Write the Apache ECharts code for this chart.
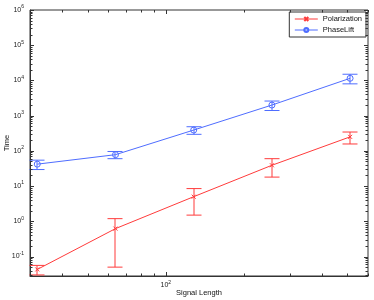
<!DOCTYPE html>
<html>
<head>
<meta charset="utf-8">
<script src="https://cdn.jsdelivr.net/npm/echarts@6/dist/echarts.min.js"></script>
<style>html,body{margin:0;padding:0;background:#fff}#c{width:374px;height:300px}</style>
</head>
<body>
<div id="c"></div>
<script>
// ---- data ----
var signalLengths = [32, 64, 128, 256, 512];
var polarizationTime = [0.043, 0.62, 5.0, 39, 250];
var polarizationErr = [0.013, 0.57, 3.5, 21, 93];
var phaseLiftTime = [42, 78, 390, 2000, 11500];
var phaseLiftErr = [12.5, 18, 95, 600, 3500];
var xRange = [30, 600];
var yRange = [0.028, 1e6];
var xTickValues = [30, 40, 50, 60, 70, 80, 90, 100, 200, 300, 400, 500, 600];
var yTickDecades = [-2, -1, 0, 1, 2, 3, 4, 5];
var seriesNames = ['Polarization', 'PhaseLift'];

var RED = '#ff3b3b', BLUE = '#4f6dff', AX = '#333';
var FONT = '"Liberation Sans", Arial, sans-serif';

// tick lists (major = power of ten)
var xTicks = xTickValues.map(function (v) { return [v, yRange[0]]; });
var yTicks = [];
yTickDecades.forEach(function (d) {
  for (var k = 1; k <= 9; k++) {
    var v = k * Math.pow(10, d);
    if (v >= yRange[0] && v <= yRange[1]) yTicks.push([xRange[0], v]);
  }
});
yTicks.push([xRange[0], 1e6]);

function isPow10(v) {
  var l = Math.log10(v);
  return Math.abs(l - Math.round(l)) < 1e-6;
}
function supLabel(v) {
  if (!isPow10(v)) return '';
  return '{b|10}{s|' + Math.round(Math.log10(v)) + '}';
}
var richLab = {
  b: { fontSize: 7, fontFamily: FONT, color: '#222' },
  s: { fontSize: 5, fontFamily: FONT, color: '#222', padding: [0, 0, 6, 0] }
};

function errData(xs, m, e) {
  return xs.map(function (x, i) { return [x, m[i] - e[i], m[i] + e[i]]; });
}
function errRender(color) {
  return function (params, api) {
    var lo = api.coord([api.value(0), api.value(1)]);
    var hi = api.coord([api.value(0), api.value(2)]);
    var w = 7.5;
    var x = Math.round(lo[0]);
    function st() { return { stroke: color, lineWidth: 1, fill: null }; }
    return {
      type: 'group',
      children: [
        { type: 'line', shape: { x1: x, y1: lo[1], x2: x, y2: hi[1] }, style: st() },
        { type: 'line', shape: { x1: x - w, y1: lo[1], x2: x + w, y2: lo[1] }, style: st() },
        { type: 'line', shape: { x1: x - w, y1: hi[1], x2: x + w, y2: hi[1] }, style: st() }
      ]
    };
  };
}
function xTickRender(params, api) {
  var v = api.value(0);
  var p = api.coord([v, api.value(1)]);
  var cs = params.coordSys;
  var len = isPow10(v) ? 4 : 2.5;
  var x = Math.round(p[0]) + 0.5;
  return {
    type: 'group',
    children: [
      { type: 'line', shape: { x1: x, y1: cs.y + cs.height, x2: x, y2: cs.y + cs.height - len }, style: { stroke: AX, lineWidth: 1 } },
      { type: 'line', shape: { x1: x, y1: cs.y, x2: x, y2: cs.y + len }, style: { stroke: AX, lineWidth: 1 } }
    ]
  };
}
function yTickRender(params, api) {
  var v = api.value(1);
  var p = api.coord([api.value(0), v]);
  var cs = params.coordSys;
  var len = isPow10(v) ? 4 : 2.5;
  var y = Math.round(p[1]) + 0.5;
  return {
    type: 'group',
    children: [
      { type: 'line', shape: { x1: cs.x, y1: y, x2: cs.x + len, y2: y }, style: { stroke: AX, lineWidth: 1 } },
      { type: 'line', shape: { x1: cs.x + cs.width, y1: y, x2: cs.x + cs.width - len, y2: y }, style: { stroke: AX, lineWidth: 1 } }
    ]
  };
}

var chart = echarts.init(document.getElementById('c'), null, { renderer: 'canvas' });
chart.setOption({
  animation: false,
  backgroundColor: '#fff',
  textStyle: { fontFamily: FONT },
  grid: { left: 30, right: 6, top: 10, bottom: 24, show: true, borderColor: AX, borderWidth: 1, backgroundColor: '#fff', containLabel: false, outerBoundsMode: 'none' },
  legend: {
    data: seriesNames,
    orient: 'vertical',
    right: 8, top: 12,
    backgroundColor: '#fff',
    borderColor: AX, borderWidth: 1, borderRadius: 0,
    padding: [3, 4, 3, 5],
    itemWidth: 23, itemHeight: 5, itemGap: 3,
    lineStyle: { width: 1 },
    textStyle: { fontSize: 7.5, color: '#111', fontFamily: FONT }
  },
  xAxis: {
    type: 'log', logBase: 10, min: xRange[0], max: xRange[1],
    name: 'Signal Length', nameLocation: 'middle', nameGap: 13, nameMoveOverlap: false,
    nameTextStyle: { fontSize: 7.5, color: '#111', fontFamily: FONT },
    axisLine: { show: true, lineStyle: { color: AX, width: 1 } },
    axisTick: { show: false },
    splitLine: { show: false },
    axisLabel: { margin: 4, formatter: supLabel, rich: richLab, showMinLabel: false, showMaxLabel: false }
  },
  yAxis: {
    type: 'log', logBase: 10, min: yRange[0], max: yRange[1],
    name: 'Time', nameLocation: 'middle', nameGap: 19, nameRotate: 90, nameMoveOverlap: false,
    nameTextStyle: { fontSize: 7.5, color: '#111', fontFamily: FONT },
    axisLine: { show: true, lineStyle: { color: AX, width: 1 } },
    axisTick: { show: false },
    splitLine: { show: false },
    axisLabel: { margin: 6, formatter: supLabel, rich: richLab, showMinLabel: false, showMaxLabel: true }
  },
  series: [
    { type: 'custom', name: 'xticks', data: xTicks, renderItem: xTickRender, silent: true, z: 5, clip: false },
    { type: 'custom', name: 'yticks', data: yTicks, renderItem: yTickRender, silent: true, z: 5, clip: false },
    { type: 'custom', name: 'polErr', data: errData(signalLengths, polarizationTime, polarizationErr), renderItem: errRender(RED), encode: { x: 0, y: [1, 2] }, silent: true, z: 2 },
    { type: 'custom', name: 'phErr', data: errData(signalLengths, phaseLiftTime, phaseLiftErr), renderItem: errRender(BLUE), encode: { x: 0, y: [1, 2] }, silent: true, z: 2 },
    {
      type: 'line', name: seriesNames[0],
      data: signalLengths.map(function (x, i) { return [x, polarizationTime[i]]; }),
      lineStyle: { color: RED, width: 1 },
      symbol: 'path://M0,0L10,10M10,0L0,10', symbolSize: 4, showAllSymbol: true,
      itemStyle: { color: RED, borderColor: RED, borderWidth: 1 },
      z: 3
    },
    {
      type: 'line', name: seriesNames[1],
      data: signalLengths.map(function (x, i) { return [x, phaseLiftTime[i]]; }),
      lineStyle: { color: BLUE, width: 1 },
      symbol: 'circle', symbolSize: 6, showAllSymbol: true,
      itemStyle: { color: 'rgba(255,255,255,0)', borderColor: BLUE, borderWidth: 1 },
      z: 3
    }
  ]
});
</script>
</body>
</html>
